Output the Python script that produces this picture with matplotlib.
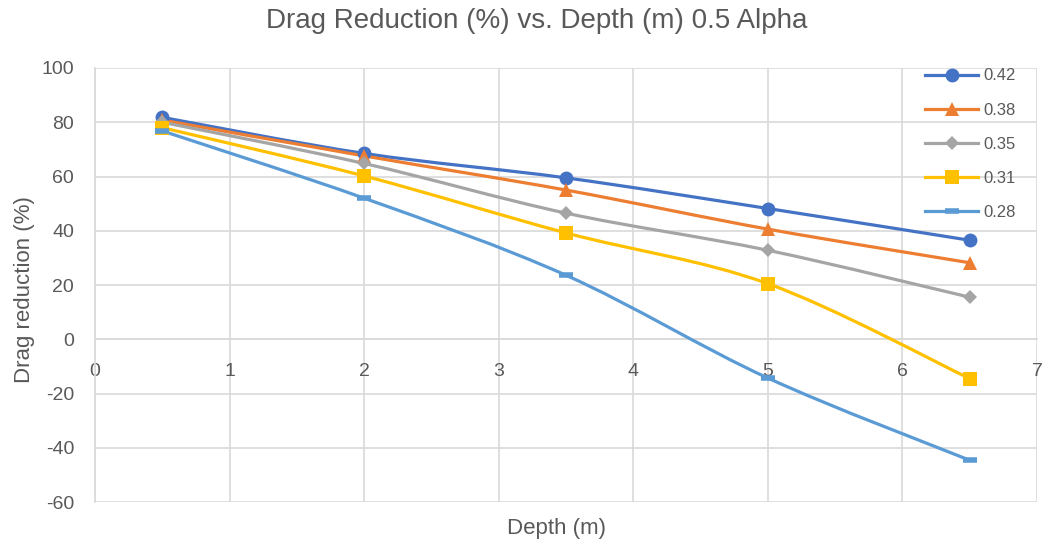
import matplotlib.pyplot as plt
from matplotlib.path import Path
from matplotlib.patches import PathPatch
from matplotlib.lines import Line2D

# Depth (m) and drag reduction (%) for each ratio
depth = [0.5, 2, 3.5, 5, 6.5]
dr_042 = [81.8, 68.5, 59.5, 48.2, 36.5]
dr_038 = [80.8, 67.6, 55.0, 40.6, 28.2]
dr_035 = [80.0, 64.8, 46.5, 32.8, 15.5]
dr_031 = [78.0, 60.2, 39.2, 20.5, -14.5]
dr_028 = [76.8, 52.0, 23.6, -14.3, -44.6]

labels = ["0.42", "0.38", "0.35", "0.31", "0.28"]
series = [dr_042, dr_038, dr_035, dr_031, dr_028]
colors = ["#4472C4", "#ED7D31", "#A5A5A5", "#FFC000", "#5B9BD5"]
markers = ["o", "^", "D", "s", "_"]
msizes = [10, 10, 7, 10, 10]

plt.rcParams['font.family'] = ['Liberation Sans', 'DejaVu Sans']
plt.rcParams['axes.unicode_minus'] = False
text_col = "#595959"
grid_col = "#D9D9D9"


def smooth_path(xs, ys):
    # cubic bezier through the points, like a spreadsheet "smoothed line"
    pts = list(zip(xs, ys))
    verts = [pts[0]]
    codes = [Path.MOVETO]
    n = len(pts)
    for i in range(n - 1):
        p0 = pts[max(i - 1, 0)]
        p1 = pts[i]
        p2 = pts[i + 1]
        p3 = pts[min(i + 2, n - 1)]
        c1 = (p1[0] + (p2[0] - p0[0]) / 6, p1[1] + (p2[1] - p0[1]) / 6)
        c2 = (p2[0] - (p3[0] - p1[0]) / 6, p2[1] - (p3[1] - p1[1]) / 6)
        verts += [c1, c2, p2]
        codes += [Path.CURVE4] * 3
    return Path(verts, codes)


fig = plt.figure(figsize=(10.46, 5.44), dpi=100)
ax = fig.add_axes([0.0908, 0.0772, 0.9006, 0.7978])

handles = []
for ys, lab, c, m, ms in zip(series, labels, colors, markers, msizes):
    patch = PathPatch(smooth_path(depth, ys), facecolor="none", edgecolor=c,
                      lw=2.3, zorder=3, capstyle="round", joinstyle="round")
    ax.add_patch(patch)
    mew = 4 if m == "_" else 0
    ax.plot(depth, ys, linestyle="none", marker=m, markersize=ms, color=c,
            markeredgewidth=mew, zorder=4)
    handles.append(Line2D([], [], color=c, lw=2.3, marker=m, markersize=ms,
                          markeredgewidth=mew, label=lab))

ax.set_xlim(0, 7)
ax.set_ylim(-60, 100)
ax.set_xticks(range(0, 8))
ax.set_yticks(range(-60, 101, 20))
ax.grid(True, color=grid_col, lw=1.2, zorder=0)
ax.set_axisbelow(True)

for s in ["top", "right"]:
    ax.spines[s].set_visible(False)
ax.spines["left"].set_color(grid_col)
ax.spines["left"].set_linewidth(1.2)
ax.spines["bottom"].set_position(("data", 0))
ax.spines["bottom"].set_color(grid_col)
ax.spines["bottom"].set_linewidth(1.2)
ax.tick_params(length=0, labelsize=14, colors=text_col)
ax.tick_params(axis="y", pad=15)
ax.tick_params(axis="x", pad=17)

ax.set_xlabel("Depth (m)", fontsize=16, color=text_col)
ax.xaxis.set_label_coords(0.49, -0.037)
ax.set_ylabel("Drag reduction (%)", fontsize=16, color=text_col)
ax.yaxis.set_label_coords(-0.064, 0.49)

fig.suptitle("Drag Reduction (%) vs. Depth (m) 0.5 Alpha", fontsize=20,
             color=text_col, x=0.513, y=0.985)

leg = ax.legend(handles=handles, loc="upper left", frameon=False,
                fontsize=12, labelcolor=text_col, handlelength=3.2,
                labelspacing=1.15, bbox_to_anchor=(0.881, 0.999),
                borderaxespad=0, borderpad=0, handletextpad=0.3)

fig.savefig("out.png", dpi=100)
